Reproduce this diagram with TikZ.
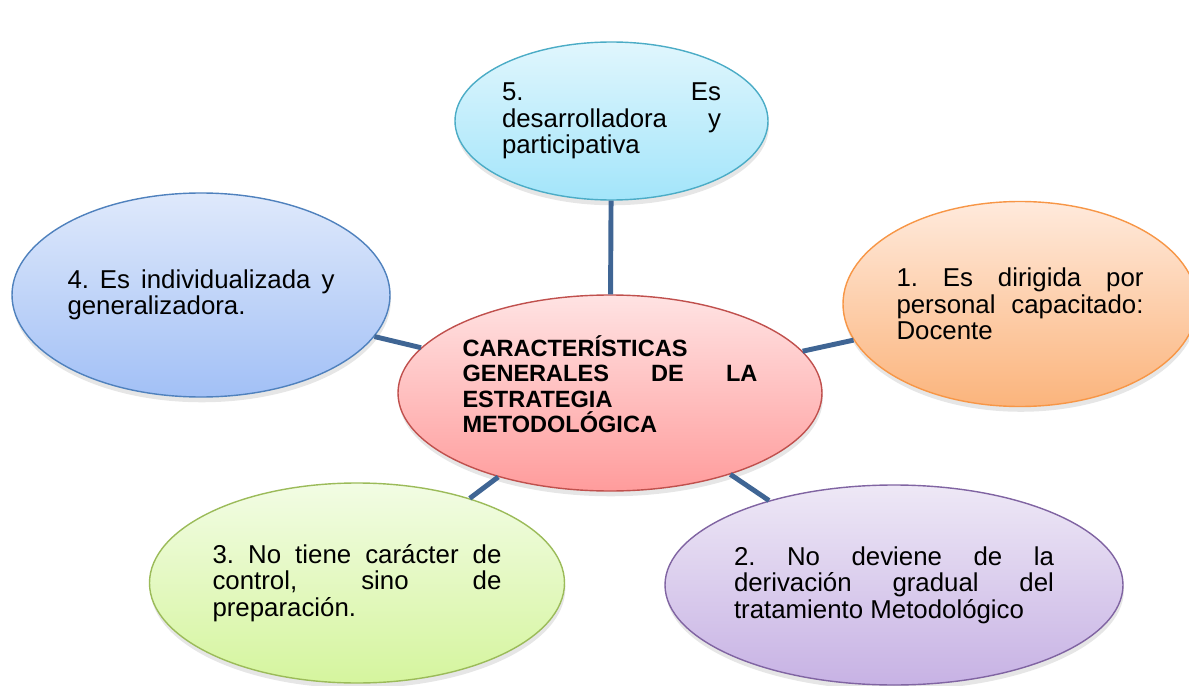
\documentclass[tikz,border=0pt]{standalone}
\usepackage{fontspec}
\setmainfont{Liberation Sans}
\usetikzlibrary{shapes.geometric,shadows}
\setlength{\parindent}{0pt}
\hyphenpenalty=10000
\tolerance=9999
\hbadness=10000
\frenchspacing

\definecolor{linkblue}{HTML}{3F6594}
\definecolor{redline}{HTML}{C0504D}
\definecolor{redtop}{HTML}{FFE3E3}
\definecolor{redbot}{HTML}{FF9C9C}
\definecolor{cyanline}{HTML}{4BACC6}
\definecolor{cyantop}{HTML}{E0F6FD}
\definecolor{cyanbot}{HTML}{A3E5FA}
\definecolor{orangeline}{HTML}{F79646}
\definecolor{orangetop}{HTML}{FFEADC}
\definecolor{orangebot}{HTML}{FBB47C}
\definecolor{blueline}{HTML}{4F81BD}
\definecolor{bluetop}{HTML}{DFE9FB}
\definecolor{bluebot}{HTML}{A2C0F6}
\definecolor{greenline}{HTML}{9BBB59}
\definecolor{greentop}{HTML}{F2FCE4}
\definecolor{greenbot}{HTML}{D5F59E}
\definecolor{violetline}{HTML}{8064A2}
\definecolor{violettop}{HTML}{EEE8F6}
\definecolor{violetbot}{HTML}{C7B2E4}

\begin{document}
\begin{tikzpicture}[
    idea/.style={ellipse, draw, line width=0.8pt, inner sep=0pt, align=justify,
      font=\fontsize{14.7}{15.1}\selectfont,
      drop shadow={shadow xshift=0.5pt, shadow yshift=-3pt, opacity=0.2}},
    link/.style={line width=2.8pt, color=linkblue}]
  \useasboundingbox (0, 0) rectangle (23.78, 13.7);
  % centro
  \node[idea, draw=redline, top color=redtop, bottom color=redbot,
    minimum width=8.48cm, minimum height=3.92cm, text width=5.9cm, text depth=53pt,
    font=\bfseries\fontsize{13.4}{14.3}\selectfont] (centro) at (12.2, 5.84)
    {CARACTERÍSTICAS\linebreak GENERALES DE LA\linebreak ESTRATEGIA\linebreak METODOLÓGICA};
  % caracteristicas
  \node[idea, draw=cyanline, top color=cyantop, bottom color=cyanbot,
    minimum width=6.26cm, minimum height=3.16cm, text width=4.38cm]
    (cinco) at (12.23, 11.28) {5. Es\linebreak desarrolladora y\linebreak participativa};
  \node[idea, draw=orangeline, top color=orangetop, bottom color=orangebot,
    minimum width=7.08cm, minimum height=4.1cm, text width=4.94cm]
    (uno) at (20.4, 7.62) {1. Es dirigida por\linebreak personal capacitado:\linebreak Docente};
  \node[idea, draw=blueline, top color=bluetop, bottom color=bluebot,
    minimum width=7.56cm, minimum height=4.08cm, text width=5.34cm]
    (cuatro) at (4.02, 7.8) {4. Es individualizada y\linebreak generalizadora.};
  \node[idea, draw=greenline, top color=greentop, bottom color=greenbot,
    minimum width=8.3cm, minimum height=4cm, text width=5.78cm]
    (tres) at (7.14, 2.04) {3. No tiene carácter de\linebreak control, sino de\linebreak preparación.};
  \node[idea, draw=violetline, top color=violettop, bottom color=violetbot,
    minimum width=9.16cm, minimum height=4cm, text width=6.4cm]
    (dos) at (17.88, 2.0) {2. No deviene de la\linebreak derivación gradual del\linebreak tratamiento Metodológico};
  % enlaces
  \draw[link] (centro) -- (cinco);
  \draw[link] (centro) -- (uno);
  \draw[link] (centro) -- (cuatro);
  \draw[link] (centro) -- (tres);
  \draw[link] (centro) -- (dos);
\end{tikzpicture}
\end{document}
